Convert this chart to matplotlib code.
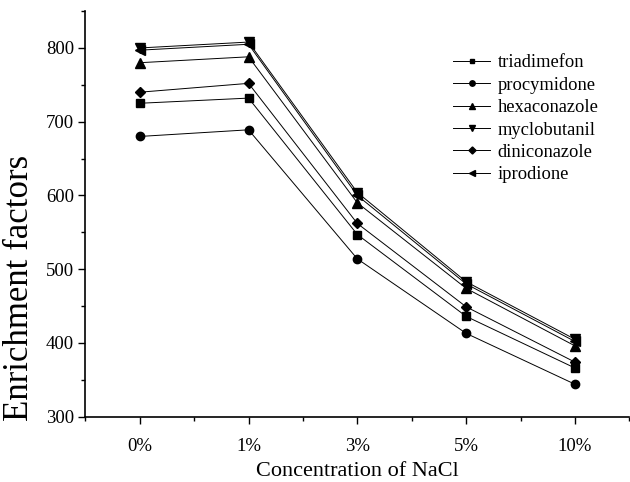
import matplotlib
matplotlib.use("Agg")
import matplotlib.pyplot as plt
from matplotlib.ticker import MultipleLocator

plt.rcParams['font.family'] = ['Liberation Serif', 'DejaVu Serif']

categories = ["0%", "1%", "3%", "5%", "10%"]
triadimefon = [725, 732, 547, 436, 366]
procymidone = [680, 689, 514, 413, 344]
hexaconazole = [780, 788, 590, 474, 396]
myclobutanil = [800, 808, 604, 483, 405]
diniconazole = [740, 752, 562, 449, 374]
iprodione = [797, 805, 600, 480, 402]

series = [
    ("triadimefon", triadimefon, "s", 5.5),
    ("procymidone", procymidone, "o", 6.0),
    ("hexaconazole", hexaconazole, "^", 6.8),
    ("myclobutanil", myclobutanil, "v", 6.8),
    ("diniconazole", diniconazole, "D", 5.5),
    ("iprodione", iprodione, "<", 6.8),
]

fig = plt.figure(figsize=(6.3, 4.82), dpi=100)
ax = fig.add_axes([0.1354, 0.1355, 0.8636, 0.8415])

x = list(range(1, len(categories) + 1))
for name, vals, m, ms in series:
    ax.plot(x, vals, color="black", lw=0.7, marker=m, markersize=ms,
            markerfacecolor="black", markeredgecolor="black", label=name)

ax.set_xlim(0.5, 5.5)
ax.set_ylim(300, 850)
ax.set_xticks(x)
ax.set_xticklabels(categories)
ax.set_xticks([0.5 + i for i in range(6)], minor=True)
ax.yaxis.set_major_locator(MultipleLocator(100))
ax.yaxis.set_minor_locator(MultipleLocator(50))
ax.tick_params(axis="both", which="major", direction="out", length=5, width=1,
               labelsize=13.5)
ax.tick_params(axis="x", which="major", pad=10)
ax.tick_params(axis="y", which="major", pad=3)
ax.tick_params(axis="both", which="minor", direction="out", length=3, width=1)

for s in ["top", "right"]:
    ax.spines[s].set_visible(False)
for s in ["left", "bottom"]:
    ax.spines[s].set_linewidth(1.2)

fig.text(20 / 630, 1 - 288 / 482, "Enrichment factors", fontsize=25,
         rotation=90, ha="center", va="center")
ax.set_xlabel("Concentration of NaCl", fontsize=16)
ax.xaxis.set_label_coords(0.5, -0.112)

ax.legend(loc="upper left", bbox_to_anchor=(0.676, 0.893), frameon=False,
          fontsize=13.3, handlelength=2.0, handletextpad=0.4, labelspacing=0.29,
          borderpad=0, borderaxespad=0, markerscale=0.65)

fig.savefig("out.png", dpi=100)
